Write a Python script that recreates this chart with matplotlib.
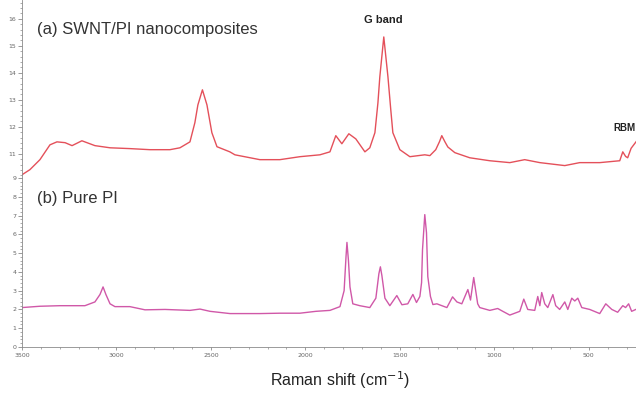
import matplotlib.pyplot as plt
from matplotlib.ticker import MultipleLocator

# Raman shift (cm-1) and intensity
swnt_shift = [3500, 3458, 3405, 3352, 3315, 3272, 3235, 3183, 3114, 3034, 2929, 2823,
              2717, 2664, 2611, 2585, 2569, 2545, 2521, 2495, 2468, 2400, 2373, 2241,
              2135, 2029, 1923, 1870, 1839, 1807, 1770, 1733, 1685, 1659, 1632, 1616,
              1606, 1585, 1563, 1548, 1537, 1500, 1447, 1368, 1341, 1310, 1290, 1278,
              1262, 1246, 1209, 1130, 1024, 918, 839, 759, 627, 548, 442, 336, 320, 305,
              294, 276, 249]
swnt_int = [10.22, 10.41, 10.78, 11.33, 11.44, 11.41, 11.30, 11.48, 11.30, 11.22, 11.19,
            11.15, 11.15, 11.22, 11.44, 12.15, 12.81, 13.37, 12.81, 11.78, 11.26, 11.07,
            10.96, 10.78, 10.78, 10.89, 10.96, 11.07, 11.67, 11.37, 11.74, 11.55, 11.07,
            11.22, 11.78, 12.89, 13.85, 15.33, 13.85, 12.63, 11.78, 11.15, 10.89, 10.96,
            10.93, 11.15, 11.45, 11.67, 11.45, 11.25, 11.04, 10.85, 10.74, 10.67, 10.78,
            10.67, 10.56, 10.67, 10.67, 10.74, 11.07, 10.90, 10.85, 11.20, 11.45]

pi_shift = [3500, 3405, 3299, 3167, 3114, 3087, 3071, 3056, 3034, 3008, 2929, 2849, 2743,
            2611, 2558, 2505, 2399, 2241, 2135, 2029, 1944, 1870, 1817, 1795, 1785, 1780,
            1772, 1764, 1749, 1712, 1659, 1627, 1611, 1603, 1595, 1579, 1553, 1516, 1489,
            1458, 1431, 1412, 1394, 1385, 1380, 1368, 1359, 1352, 1338, 1325, 1304, 1251,
            1221, 1198, 1172, 1140, 1126, 1109, 1088, 1077, 1024, 982, 955, 918, 865, 844,
            823, 786, 770, 759, 749, 733, 717, 690, 675, 654, 627, 611, 590, 574, 558, 537,
            495, 442, 410, 378, 347, 320, 305, 289, 273, 251]
pi_int = [2.10, 2.17, 2.20, 2.20, 2.40, 2.80, 3.20, 2.80, 2.30, 2.15, 2.15, 1.98, 2.00,
          1.95, 2.02, 1.90, 1.78, 1.78, 1.80, 1.80, 1.90, 1.95, 2.15, 3.00, 4.80, 5.57,
          4.60, 3.20, 2.30, 2.20, 2.10, 2.60, 3.90, 4.27, 3.80, 2.60, 2.20, 2.74, 2.25,
          2.30, 2.80, 2.37, 2.69, 3.43, 5.19, 7.05, 6.09, 3.75, 2.69, 2.26, 2.30, 2.10,
          2.67, 2.40, 2.30, 3.06, 2.50, 3.70, 2.30, 2.10, 1.95, 2.05, 1.90, 1.70, 1.90,
          2.55, 2.00, 1.95, 2.69, 2.20, 2.90, 2.30, 2.10, 2.79, 2.20, 2.00, 2.40, 2.00,
          2.60, 2.45, 2.60, 2.10, 2.00, 1.78, 2.30, 2.00, 1.85, 2.20, 2.10, 2.30, 1.90,
          2.00]

x_ticks = [3500, 3000, 2500, 2000, 1500, 1000, 500]
top_ticks = [11, 12, 13, 14, 15, 16]
bottom_ticks = [0, 1, 2, 3, 4, 5, 6, 7, 8, 9]

axis_color = "#8a8a8a"
tick_font = 4.5

fig = plt.figure(figsize=(6.36, 3.93), dpi=100)
ax_top = fig.add_axes([22 / 636, 215 / 393, 614 / 636, 178 / 393])
ax_bot = fig.add_axes([22 / 636, 46 / 393, 614 / 636, 169 / 393])

for ax in (ax_top, ax_bot):
    ax.set_xlim(3500, 250)
    ax.spines["top"].set_visible(False)
    ax.spines["right"].set_visible(False)
    ax.spines["left"].set_color(axis_color)
    ax.spines["left"].set_linewidth(0.6)
    ax.spines["bottom"].set_color(axis_color)
    ax.spines["bottom"].set_linewidth(0.6)
    ax.yaxis.set_minor_locator(MultipleLocator(0.2))
    ax.tick_params(axis="y", which="major", length=3, width=0.6, color=axis_color,
                   labelsize=tick_font, labelcolor="#666666", pad=1)
    ax.tick_params(axis="y", which="minor", length=1.5, width=0.5, color=axis_color)
    ax.patch.set_alpha(0)

# top panel
ax_top.plot(swnt_shift, swnt_int, color="#e4505a", lw=1.0)
ax_top.set_ylim(10.1, 16.7)
ax_top.set_yticks(top_ticks)
ax_top.spines["bottom"].set_visible(False)
ax_top.set_xticks([])
ax_top.text(0.025, 0.835, "(a) SWNT/PI nanocomposites", transform=ax_top.transAxes,
            va="center", fontsize=12, color="#333333", family="Liberation Sans")
ax_top.annotate("G band", xy=(1590, 15.95), ha="center", va="center", fontsize=8,
                fontweight="bold", color="#222222", family="Liberation Sans")
ax_top.annotate("RBM", xy=(250, 11.85), ha="right", fontsize=7, fontweight="bold",
                color="#222222", family="Liberation Sans")

# bottom panel
ax_bot.plot(pi_shift, pi_int, color="#d058a8", lw=1.0)
ax_bot.set_ylim(0, 9.0)
ax_bot.set_yticks(bottom_ticks)
ax_bot.set_xticks(x_ticks)
ax_bot.xaxis.set_minor_locator(MultipleLocator(100))
ax_bot.tick_params(axis="x", which="major", length=2.5, width=0.6, color=axis_color,
                   labelsize=tick_font, labelcolor="#666666", pad=2)
ax_bot.tick_params(axis="x", which="minor", length=1.5, width=0.5, color=axis_color)
ax_bot.text(0.025, 0.85, "(b) Pure PI", transform=ax_bot.transAxes,
            fontsize=12, color="#333333", family="Liberation Sans")

fig.text(340 / 636, 13 / 393, "Raman shift (cm$^{-1}$)", ha="center", va="center",
         fontsize=11.5, color="#222222", family="Liberation Sans")

fig.savefig("out.png", dpi=100)
